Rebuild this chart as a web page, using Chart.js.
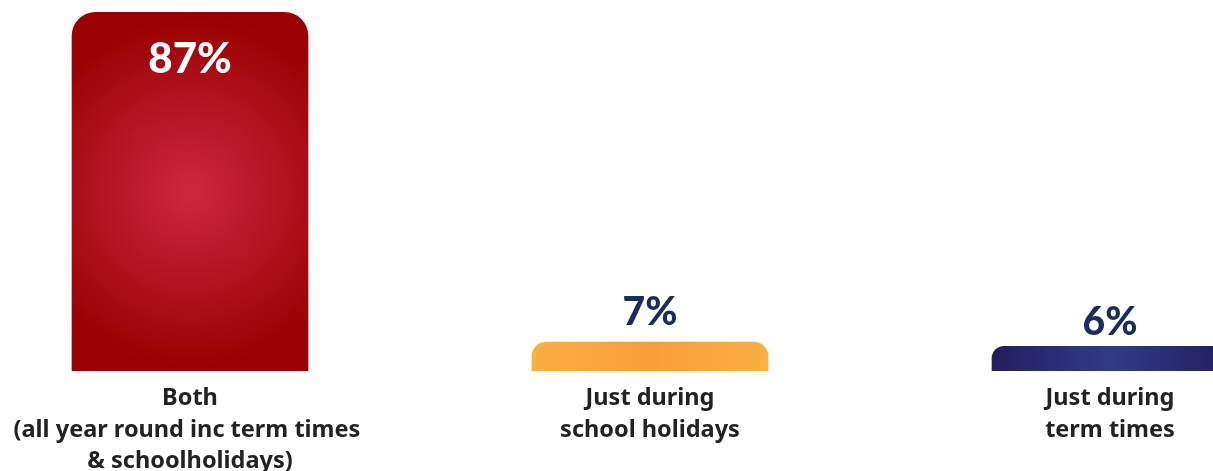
<!DOCTYPE html>
<html>
<head>
<meta charset="utf-8">
<script src="https://cdn.jsdelivr.net/npm/chart.js@4"></script>
<style>
  html, body { margin: 0; padding: 0; background: #fff; overflow: hidden; }
  #wrap { position: absolute; left: -40px; top: 0; width: 1380px; height: 471px; }
</style>
</head>
<body>
<div id="wrap"><canvas id="when" width="1380" height="471"></canvas></div>
<script>
var categories = [
    ["Both", "(all year round inc term times ", "& schoolholidays)"],
    ["Just during", "school holidays"],
    ["Just during", "term times"]
];
var shares = [87, 7, 6];
var valueLabels = ["87%", "7%", "6%"];

var FONT = "Lato, 'Noto Sans', sans-serif";
var LABEL_FONT = "'Noto Sans', sans-serif";

function barFill(context) {
    var chart = context.chart;
    var i = context.dataIndex;
    if (!chart.chartArea) return "#990000";
    var ctx = chart.ctx;
    var xs = chart.scales.x, ys = chart.scales.y;
    var cx = xs.getPixelForValue(i);
    var half = 118;
    var top = ys.getPixelForValue(shares[i]);
    var bottom = ys.getPixelForValue(0);
    var g;
    if (i == 0) {
        var cy = (top + bottom) / 2;
        g = ctx.createRadialGradient(cx, cy, 0, cx, cy, (bottom - top) / 2);
        g.addColorStop(0, "#cc2742");
        g.addColorStop(1, "#990000");
    } else if (i == 1) {
        g = ctx.createLinearGradient(cx - half, 0, cx + half, 0);
        g.addColorStop(0, "#fbb040");
        g.addColorStop(0.5, "#f99d3c");
        g.addColorStop(1, "#fbb040");
    } else {
        g = ctx.createLinearGradient(cx - half, 0, cx + half, 0);
        g.addColorStop(0, "#231e5e");
        g.addColorStop(0.5, "#2f3c87");
        g.addColorStop(1, "#231e5e");
    }
    return g;
}

// percentage text: white inside the tall bar, navy above the short ones
var labelGap = [0, 30, 24];
var valueText = {
    id: "valueText",
    afterDatasetsDraw: function(chart) {
        var ctx = chart.ctx;
        var meta = chart.getDatasetMeta(0);
        ctx.save();
        ctx.textAlign = "center";
        ctx.textBaseline = "middle";
        meta.data.forEach(function(bar, i) {
            if (i == 0) {
                ctx.fillStyle = "#ffffff";
                ctx.font = "900 42px " + FONT;
                ctx.fillText(valueLabels[i], bar.x, bar.y + 47);
            } else {
                ctx.fillStyle = "#1b2b5e";
                ctx.font = "900 39px " + FONT;
                ctx.fillText(valueLabels[i], bar.x, bar.y - labelGap[i]);
            }
        });
        ctx.restore();
    }
};

var ctx = document.getElementById("when").getContext("2d");
var myChart = new Chart(ctx, {
    type: "bar",
    data: {
        labels: categories,
        datasets: [{
            data: shares,
            backgroundColor: barFill,
            barThickness: 236,
            borderRadius: { topLeft: 24, topRight: 24, bottomLeft: 0, bottomRight: 0 },
            borderSkipped: "bottom"
        }]
    },
    plugins: [valueText],
    options: {
        responsive: false,
        animation: false,
        layout: { padding: 0 },
        plugins: {
            legend: { display: false },
            tooltip: { enabled: false }
        },
        scales: {
            x: {
                grid: { display: false, drawTicks: false },
                border: { display: false },
                ticks: {
                    padding: 12,
                    color: "#222222",
                    font: { family: LABEL_FONT, size: 23.5, weight: "bold", lineHeight: 1.33 }
                },
                afterFit: function(scale) { scale.height = 100; }
            },
            y: {
                display: false,
                min: 0,
                max: 90
            }
        }
    }
});
</script>
</body>
</html>
